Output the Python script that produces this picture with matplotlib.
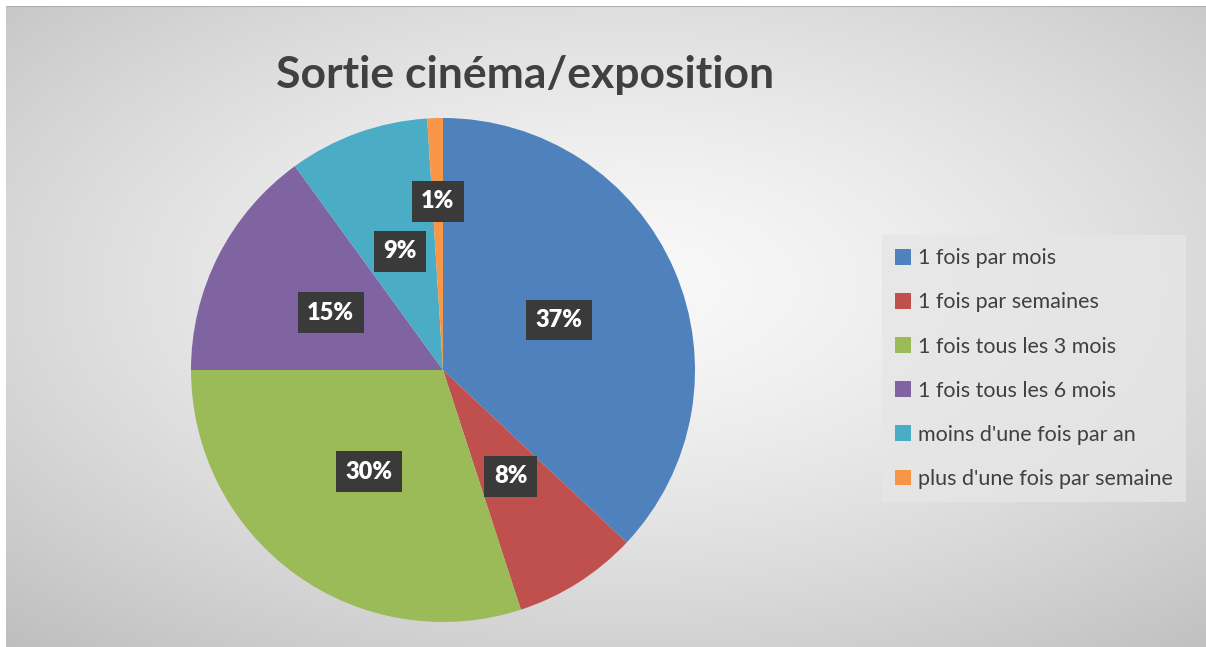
import numpy as np
import matplotlib
matplotlib.use('Agg')
import matplotlib.pyplot as plt
from matplotlib.patches import Patch

# données
categories = ['1 fois par mois', '1 fois par semaines', '1 fois tous les 3 mois',
              '1 fois tous les 6 mois', "moins d'une fois par an", "plus d'une fois par semaine"]
valeurs = [37, 8, 30, 15, 9, 1]
couleurs = ['#4F81BD', '#C0504D', '#9BBB59', '#8064A2', '#4BACC6', '#F79646']
titre = 'Sortie cinéma/exposition'

W, H = 1206, 647
fig = plt.figure(figsize=(W / 100, H / 100), dpi=100)
fig.patch.set_facecolor('white')

# fond en dégradé radial
bg = fig.add_axes([6 / W, 0, 1 - 6 / W, 1 - 6 / H])
yy, xx = np.mgrid[0:300, 0:600]
cx, cy = 310, 130
d = np.sqrt(((xx - cx) / 650) ** 2 + ((yy - cy) / 320) ** 2)
d = np.clip(d / d.max(), 0, 1)
g = 0.975 - 0.23 * d ** 1.4
bg.imshow(np.dstack([g, g, g]), aspect='auto', extent=[0, 1, 0, 1], origin='upper')
bg.axhline(1, color='#b0b0b0', lw=1.5)
bg.set_axis_off()

# camembert
cx_pix, cy_pix, r = 443, 370, 252
ax = fig.add_axes([(cx_pix - r) / W, (H - cy_pix - r) / H, 2 * r / W, 2 * r / H])
wedges, textes, autotextes = ax.pie(valeurs, colors=couleurs, startangle=90, counterclock=False,
                                    autopct='%1.0f%%', pctdistance=0.5,
                                    textprops=dict(color='white', fontsize=17, fontweight='heavy',
                                                   family='Lato'))
ax.set_xlim(-1, 1)
ax.set_ylim(-1, 1)
ax.set_aspect('equal')

for t in autotextes:
    t.set_bbox(dict(boxstyle='square,pad=0.4', facecolor='#3a3a3a', edgecolor='none'))
# l'étiquette du 1% est décalée vers l'extérieur
x, y = autotextes[-1].get_position()
autotextes[-1].set_position((x * 1.34, y * 1.34))

fig.text(525 / W, 1 - 75 / H, titre, ha='center', va='center', fontsize=32,
         fontweight='bold', color='#404040', family='Lato')

handles = [Patch(facecolor=c, edgecolor='none') for c in couleurs]
leg = fig.legend(handles, categories, loc='upper left', bbox_to_anchor=(882 / W, 1 - 235 / H),
                 frameon=True, handlelength=0.75, handleheight=0.75,
                 handletextpad=0.3, labelspacing=1.12, borderpad=0.62, borderaxespad=0,
                 prop=dict(family='Lato', size=15.5))
leg.get_frame().set_facecolor('#e6e6e6')
leg.get_frame().set_edgecolor('none')
leg.get_frame().set_boxstyle('square', pad=0)
for t in leg.get_texts():
    t.set_color('#404040')

fig.savefig('out.png', dpi=100)
